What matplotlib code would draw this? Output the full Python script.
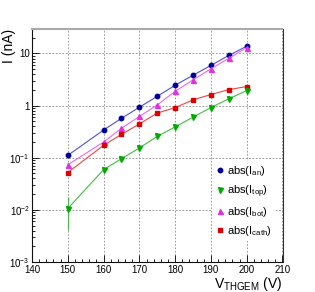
import matplotlib
matplotlib.use("Agg")
import matplotlib.pyplot as plt
from matplotlib.ticker import FixedLocator, FixedFormatter, MultipleLocator, LogLocator, NullFormatter

plt.rcParams['font.family'] = ['Liberation Sans', 'DejaVu Sans']
plt.rcParams['mathtext.fontset'] = 'custom'
plt.rcParams['mathtext.rm'] = 'Liberation Sans'
plt.rcParams['mathtext.it'] = 'Liberation Sans'

voltage = [150, 160, 165, 170, 175, 180, 185, 190, 195, 200]
i_an = [0.111, 0.34, 0.57, 0.93, 1.51, 2.46, 3.83, 5.9, 9.2, 13.8]
i_top = [0.0106, 0.059, 0.096, 0.154, 0.257, 0.39, 0.60, 0.92, 1.35, 1.94]
i_bot = [0.073, 0.20, 0.366, 0.62, 1.03, 1.88, 3.12, 5.07, 8.1, 13.0]
i_cath = [0.052, 0.173, 0.28, 0.445, 0.72, 0.915, 1.29, 1.63, 2.03, 2.32]
top_err_lo = [0.0065, 0, 0, 0, 0, 0, 0, 0, 0, 0]
top_err_hi = [0.0071, 0, 0, 0, 0, 0, 0, 0, 0, 0]
legend_labels = [r'abs(I$_{\rm an}$)', r'abs(I$_{\rm top}$)', r'abs(I$_{\rm bot}$)', r'abs(I$_{\rm cath}$)']
y_tick_vals = [1e-3, 1e-2, 1e-1, 1, 10]
y_tick_labels = [r'10$^{-3}$', r'10$^{-2}$', r'10$^{-1}$', '1', '10']

fig = plt.figure(figsize=(3.15, 2.92), dpi=100)
ax = fig.add_axes([32/315, 30/292, 250.5/315, 233/292])

h1, = ax.plot(voltage, i_an, color='#5050dd', lw=0.8, marker='o', ms=3.2,
              mfc='#000099', mec='#000099', label=legend_labels[0])
h2 = ax.errorbar(voltage, i_top, yerr=[top_err_lo, top_err_hi], color='#44bb44', lw=0.8,
                 elinewidth=0.8, capsize=0, marker='v', ms=3.6,
                 mfc='#00aa00', mec='#00aa00', label=legend_labels[1])
h3, = ax.plot(voltage, i_bot, color='#ee66ee', lw=0.8, marker='^', ms=3.6,
              mfc='#dd33dd', mec='#dd33dd', label=legend_labels[2])
h4, = ax.plot(voltage, i_cath, color='#ee4444', lw=0.8, marker='s', ms=3.2,
              mfc='#dd0000', mec='#dd0000', label=legend_labels[3])

ax.set_yscale('log')
ax.set_xlim(140, 210)
ax.set_ylim(1e-3, 29.5)

ax.xaxis.set_major_locator(MultipleLocator(10))
ax.xaxis.set_minor_locator(MultipleLocator(2))
ax.yaxis.set_major_locator(FixedLocator(y_tick_vals))
ax.yaxis.set_major_formatter(FixedFormatter(y_tick_labels))
ax.yaxis.set_minor_locator(LogLocator(base=10, subs=range(2, 10)))
ax.yaxis.set_minor_formatter(NullFormatter())

ax.tick_params(axis='both', which='both', direction='in', labelsize=7, pad=1.5,
               top=False, right=False)
ax.tick_params(axis='x', which='major', pad=2.5)
ax.tick_params(axis='both', which='major', length=5, width=0.6)
ax.tick_params(axis='both', which='minor', length=2.5, width=0.6)

ax.grid(True, which='major', color='#888888', linestyle=(0, (2, 2)), lw=0.6)
ax.set_axisbelow(True)

ax.spines['top'].set_color('#aaaaaa')
ax.spines['top'].set_linewidth(1.5)
ax.spines['right'].set_color('#333333')
ax.spines['left'].set_color('#111111')
ax.spines['bottom'].set_color('#111111')

fig.text(8.5/315, 1 - 29/292, 'I (nA)', rotation=90, ha='center', va='top', fontsize=10)
ax.set_xlabel(r'V$_{\rm THGEM}$ (V)', fontsize=10, loc='right', labelpad=0)

leg = ax.legend(handles=[h1, h2[0], h3, h4], labels=legend_labels, loc='center',
                bbox_to_anchor=(0.845, 0.262),
                fontsize=8, frameon=True, framealpha=1, facecolor='white', edgecolor='none',
                handlelength=0.8, handletextpad=0.3, labelspacing=0.45, borderpad=0.3,
                fancybox=False)
for line in leg.get_lines():
    line.set_linestyle('none')

fig.savefig('out.png', dpi=100)
